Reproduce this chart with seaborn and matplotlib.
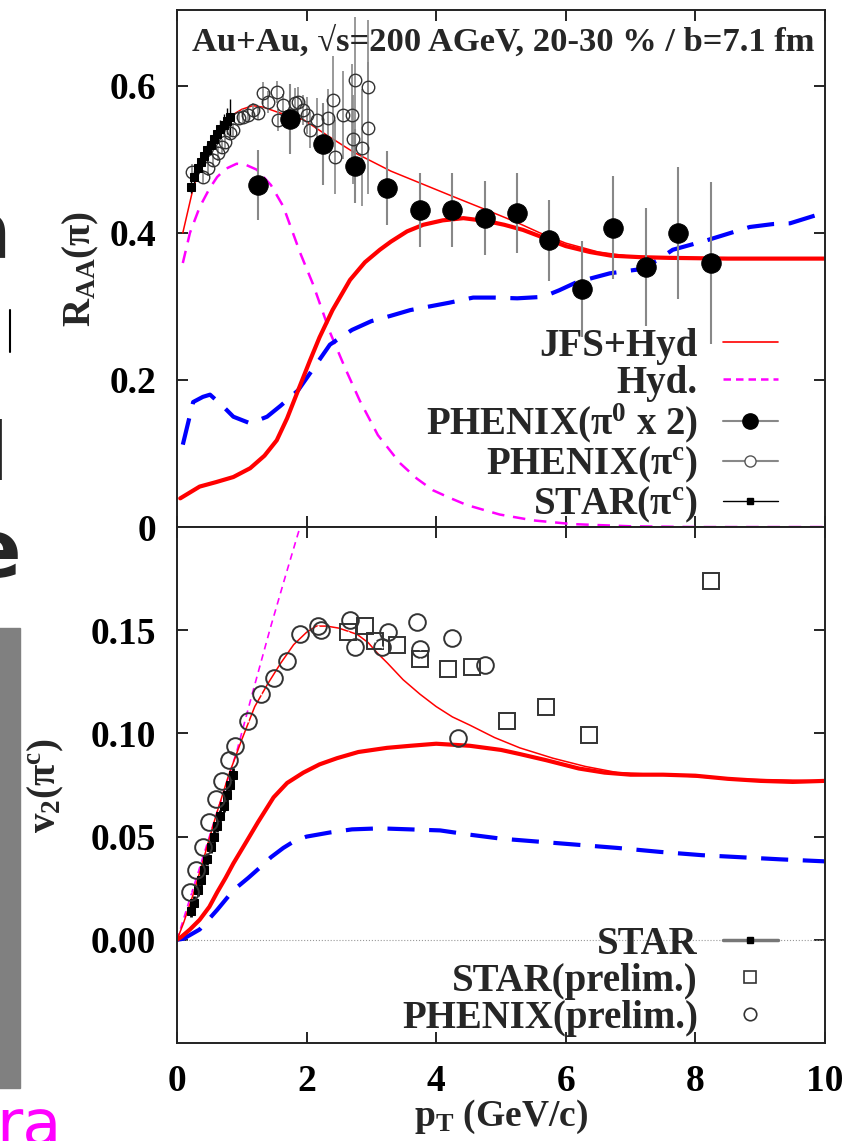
import numpy as np
import pandas as pd
import matplotlib
matplotlib.use('Agg')
from matplotlib import pyplot as plt
from matplotlib.lines import Line2D
from matplotlib.patches import Rectangle
import seaborn as sns

# ---------------- R_AA panel (top) ----------------
# JFS+Hyd (thin red)
raa_jfs_pt = [0.09, 0.25, 0.4, 0.55, 0.7, 0.85, 1.0, 1.17, 1.33, 1.59, 1.95, 2.31, 2.72, 3.3, 3.8,
              4.3, 4.78, 5.25, 5.6, 6.0, 6.5, 7.0, 8.0, 9.0, 10.0]
raa_jfs = [0.40, 0.461, 0.50, 0.525, 0.545, 0.56, 0.568, 0.573, 0.571, 0.563, 0.554, 0.533, 0.510, 0.484,
           0.466, 0.448, 0.431, 0.414, 0.400, 0.386, 0.374, 0.368, 0.365, 0.365, 0.365]
# second JFS+Hyd curve (thick red)
raa_thick_pt = [0.05, 0.35, 0.6, 0.87, 1.13, 1.35, 1.54, 1.7, 1.87, 2.05, 2.2, 2.4, 2.67, 2.9, 3.13, 3.3,
                3.55, 3.8, 4.1, 4.42, 4.78, 5.05, 5.34, 5.76, 6.0, 6.37, 6.7, 7.14, 7.6, 8.5, 10.0]
raa_thick = [0.039, 0.055, 0.061, 0.068, 0.080, 0.097, 0.118, 0.148, 0.186, 0.226, 0.258, 0.295, 0.336,
             0.360, 0.377, 0.388, 0.402, 0.411, 0.417, 0.420, 0.416, 0.411, 0.404, 0.390, 0.382, 0.374,
             0.369, 0.367, 0.366, 0.365, 0.365]
# Hyd. (magenta dashed)
raa_hyd_pt = [0.09, 0.2, 0.35, 0.5, 0.62, 0.75, 0.92, 1.05, 1.23, 1.45, 1.64, 1.9, 2.1, 2.36, 2.6, 2.82,
              3.1, 3.44, 3.7, 3.95, 4.2, 4.47, 4.98, 5.5, 6.1, 7.0, 8.0, 10.0]
raa_hyd = [0.359, 0.40, 0.435, 0.46, 0.476, 0.487, 0.494, 0.493, 0.486, 0.465, 0.436, 0.373, 0.33, 0.265,
           0.215, 0.172, 0.125, 0.087, 0.066, 0.050, 0.040, 0.030, 0.017, 0.009, 0.004, 0.001, 0.0, 0.0]
# blue dashed
raa_blue_pt = [0.09, 0.25, 0.4, 0.51, 0.7, 0.87, 1.13, 1.39, 1.6, 1.87, 2.1, 2.36, 2.7, 3.0, 3.29, 3.6,
               3.9, 4.2, 4.57, 4.9, 5.25, 5.65, 5.9, 6.17, 6.68, 7.1, 7.4, 7.65, 8.18, 8.84, 9.2, 9.46, 9.97]
raa_blue = [0.112, 0.170, 0.177, 0.180, 0.165, 0.150, 0.141, 0.150, 0.165, 0.186, 0.215, 0.248, 0.268,
            0.280, 0.287, 0.295, 0.300, 0.305, 0.312, 0.312, 0.311, 0.313, 0.322, 0.333, 0.345, 0.350,
            0.362, 0.377, 0.390, 0.408, 0.412, 0.413, 0.427]

# PHENIX pi0 x 2
phx_pi0_pt = [1.25, 1.74, 2.25, 2.75, 3.24, 3.75, 4.24, 4.75, 5.25, 5.74, 6.25, 6.73, 7.24, 7.73, 8.24]
phx_pi0 = [0.465, 0.555, 0.521, 0.491, 0.461, 0.431, 0.431, 0.420, 0.427, 0.390, 0.324, 0.407, 0.354,
           0.400, 0.359]
phx_pi0_err = [0.048, 0.048, 0.056, 0.05, 0.05, 0.05, 0.05, 0.05, 0.055, 0.055, 0.065, 0.07, 0.08, 0.09, 0.11]

# PHENIX charged pions
phx_pic_pt = [0.23, 0.40, 0.48, 0.56, 0.63, 0.69, 0.74, 0.82, 0.87, 0.95, 1.02, 1.10, 1.17, 1.25, 1.33,
              1.40, 1.54, 1.56, 1.64, 1.82, 1.87, 1.95, 2.0, 2.05, 2.16, 2.33, 2.41, 2.44, 2.56, 2.7,
              2.72, 2.75, 2.85, 2.95, 2.95]
phx_pic = [0.483, 0.476, 0.488, 0.499, 0.508, 0.517, 0.524, 0.536, 0.540, 0.556, 0.558, 0.560, 0.567,
           0.563, 0.590, 0.578, 0.592, 0.554, 0.574, 0.577, 0.578, 0.567, 0.560, 0.540, 0.554, 0.556,
           0.581, 0.503, 0.560, 0.560, 0.527, 0.608, 0.516, 0.599, 0.543]
phx_pic_err = [0.01, 0.01, 0.01, 0.01, 0.01, 0.01, 0.01, 0.01, 0.01, 0.01, 0.01, 0.01, 0.01, 0.01, 0.015,
               0.015, 0.015, 0.015, 0.015, 0.02, 0.02, 0.02, 0.025, 0.025, 0.03, 0.04, 0.06, 0.05, 0.06,
               0.07, 0.06, 0.085, 0.08, 0.09, 0.09]

# STAR charged pions
star_pic_pt = [0.22, 0.27, 0.32, 0.37, 0.42, 0.47, 0.52, 0.57, 0.62, 0.67, 0.72, 0.77, 0.82]
star_pic = [0.462, 0.476, 0.488, 0.497, 0.505, 0.513, 0.520, 0.527, 0.534, 0.541, 0.547, 0.552, 0.557]
star_pic_err = [0.008, 0.008, 0.008, 0.008, 0.008, 0.008, 0.01, 0.01, 0.01, 0.012, 0.014, 0.018, 0.025]

# ---------------- v2 panel (bottom) ----------------
v2_jfs_pt = [0.0, 0.1, 0.25, 0.4, 0.6, 0.8, 1.0, 1.2, 1.4, 1.6, 1.8, 2.0, 2.15, 2.31, 2.5, 2.78, 2.95,
             3.09, 3.25, 3.49, 3.75, 4.0, 4.25, 4.52, 4.9, 5.29, 5.8, 6.3, 6.8, 7.5, 8.5, 10.0]
v2_jfs = [0.0, 0.008, 0.022, 0.038, 0.060, 0.080, 0.097, 0.113, 0.124, 0.134, 0.143, 0.149, 0.152, 0.152,
          0.151, 0.148, 0.144, 0.139, 0.134, 0.126, 0.119, 0.113, 0.108, 0.104, 0.098, 0.093, 0.088,
          0.084, 0.081, 0.080, 0.078, 0.077]
v2_thick_pt = [0.0, 0.07, 0.2, 0.35, 0.5, 0.62, 0.75, 0.87, 1.08, 1.25, 1.49, 1.7, 1.95, 2.2, 2.47, 2.8,
               3.24, 3.6, 4.0, 4.52, 5.0, 5.29, 5.7, 6.2, 6.6, 7.0, 7.5, 8.0, 8.5, 9.0, 9.5, 10.0]
v2_thick = [0.0, 0.0015, 0.005, 0.0097, 0.016, 0.023, 0.030, 0.037, 0.048, 0.057, 0.069, 0.076, 0.081,
            0.085, 0.088, 0.091, 0.093, 0.094, 0.095, 0.094, 0.092, 0.090, 0.087, 0.083, 0.081, 0.080,
            0.080, 0.0795, 0.078, 0.077, 0.0765, 0.077]
v2_hyd_pt = [0.0, 0.3, 0.6, 0.92, 1.16, 1.44, 1.69, 1.87, 2.0]
v2_hyd = [0.0, 0.03, 0.06, 0.091, 0.119, 0.151, 0.178, 0.197, 0.21]
v2_blue_pt = [0.0, 0.1, 0.35, 0.62, 0.87, 1.1, 1.28, 1.45, 1.64, 1.82, 2.0, 2.36, 2.7, 3.13, 3.6, 4.06,
              4.5, 5.0, 5.6, 6.2, 6.8, 7.45, 8.1, 8.7, 9.3, 10.0]
v2_blue = [0.0, 0.0005, 0.005, 0.0145, 0.024, 0.030, 0.035, 0.040, 0.0445, 0.048, 0.050, 0.052, 0.0535,
           0.054, 0.0535, 0.053, 0.051, 0.049, 0.0475, 0.046, 0.0445, 0.0426, 0.041, 0.040, 0.039, 0.038]

star_v2_pt = [0.22, 0.27, 0.32, 0.37, 0.42, 0.47, 0.52, 0.57, 0.62, 0.67, 0.72, 0.77, 0.82, 0.87]
star_v2 = [0.014, 0.018, 0.024, 0.029, 0.034, 0.039, 0.045, 0.050, 0.055, 0.060, 0.065, 0.070, 0.075, 0.080]
star_pre_pt = [2.64, 2.90, 3.06, 3.39, 3.75, 4.18, 4.55, 5.09, 5.69, 6.36, 8.24]
star_pre = [0.149, 0.152, 0.145, 0.143, 0.136, 0.131, 0.132, 0.106, 0.113, 0.099, 0.174]
phx_pre_pt = [0.2, 0.3, 0.4, 0.5, 0.6, 0.7, 0.8, 0.9, 1.1, 1.3, 1.5, 1.7, 1.9, 2.18, 2.23, 2.67, 2.75,
              3.16, 3.26, 3.70, 3.75, 4.24, 4.34, 4.75]
phx_pre = [0.023, 0.034, 0.045, 0.057, 0.068, 0.077, 0.087, 0.094, 0.106, 0.119, 0.127, 0.135, 0.148,
           0.152, 0.150, 0.155, 0.142, 0.142, 0.149, 0.154, 0.141, 0.146, 0.098, 0.133]

raa_ticks = [0, 0.2, 0.4, 0.6]
raa_ticklabels = ['0', '0.2', '0.4', '0.6']
v2_ticks = [0.0, 0.05, 0.10, 0.15]
v2_ticklabels = ['0.00', '0.05', '0.10', '0.15']
pt_ticks = [0, 2, 4, 6, 8, 10]

sns.set_style('ticks')
plt.rcParams['font.family'] = ['Liberation Serif', 'DejaVu Serif']
plt.rcParams['font.weight'] = 'bold'
plt.rcParams['axes.labelweight'] = 'bold'
plt.rcParams['mathtext.fontset'] = 'custom'
plt.rcParams['mathtext.rm'] = 'Liberation Serif:bold'
plt.rcParams['mathtext.it'] = 'Liberation Serif:italic:bold'
plt.rcParams['mathtext.bf'] = 'Liberation Serif:bold'
plt.rcParams['mathtext.default'] = 'rm'


def curve(ax, x, y, **kw):
    sns.lineplot(x=x, y=y, ax=ax, estimator=None, sort=False, errorbar=None, **kw)


fig = plt.figure(figsize=(8.46, 11.41), dpi=100)
ax1 = fig.add_axes([0.2092, 0.5381, 0.766, 0.4531])
ax2 = fig.add_axes([0.2092, 0.0859, 0.766, 0.4522])

# ---- top panel ----
curve(ax1, raa_hyd_pt, raa_hyd, color='#ff00ff', lw=1.8, linestyle=(0, (5, 3.5)))
curve(ax1, raa_blue_pt, raa_blue, color='#0000ff', lw=3, linestyle=(0, (6.5, 3.5)))
curve(ax1, raa_thick_pt, raa_thick, color='red', lw=3)
curve(ax1, raa_jfs_pt, raa_jfs, color='red', lw=1.1)
ax1.errorbar(phx_pic_pt, phx_pic, yerr=phx_pic_err, fmt='none', ecolor='#888888', elinewidth=1.2, capsize=0)
ax1.errorbar(phx_pi0_pt, phx_pi0, yerr=phx_pi0_err, fmt='none', ecolor='#888888', elinewidth=1.5, capsize=0)
ax1.errorbar(star_pic_pt, star_pic, yerr=star_pic_err, fmt='none', ecolor='black', elinewidth=1.0, capsize=0)
curve(ax1, phx_pic_pt, phx_pic, linestyle='none', marker='o', ms=9, mfc='none', mec='#333333', mew=1.0)
curve(ax1, star_pic_pt, star_pic, linestyle='none', marker='s', ms=6, color='black', mec='black')
curve(ax1, phx_pi0_pt, phx_pi0, linestyle='none', marker='o', ms=14, color='black', mec='black')

ax1.set_ylim(0, 0.703)
ax1.set_yticks(raa_ticks)
ax1.set_yticklabels(raa_ticklabels)
ax1.set_ylabel('R$_{AA}$(π)', fontsize=28)
ax1.yaxis.set_label_coords(-0.118, 0.5)
ax1.text(0.023, 0.938, 'Au+Au, √s=200 AGeV, 20-30 % / b=7.1 fm', transform=ax1.transAxes,
         fontsize=24.8, ha='left', va='center')

h1 = [Line2D([], [], color='red', lw=1.2),
      Line2D([], [], color='#ff00ff', lw=1.8, linestyle=(0, (3, 2))),
      Line2D([], [], color='#888888', lw=1.5, marker='o', ms=11, mfc='black', mec='black'),
      Line2D([], [], color='#888888', lw=1.5, marker='o', ms=8, mfc='white', mec='#555555'),
      Line2D([], [], color='black', lw=1.0, marker='s', ms=5, mfc='black', mec='black')]
l1 = ['JFS+Hyd', 'Hyd.', 'PHENIX(π$^0$ x 2)', 'PHENIX(π$^c$)', 'STAR(π$^c$)']
ax1.legend(h1, l1, markerfirst=False, frameon=False, loc='lower right', bbox_to_anchor=(0.927, 0.003),
           borderpad=0, borderaxespad=0, handlelength=1.4, handletextpad=0.65, labelspacing=0.0,
           fontsize=28)

# ---- bottom panel ----
ax2.axhline(0, color='#999999', lw=0.8, linestyle=':')
curve(ax2, v2_hyd_pt, v2_hyd, color='#ff00ff', lw=1.2, linestyle=(0, (4, 3)))
curve(ax2, v2_blue_pt, v2_blue, color='#0000ff', lw=3, linestyle=(0, (6.5, 3.5)))
curve(ax2, v2_thick_pt, v2_thick, color='red', lw=3)
curve(ax2, v2_jfs_pt, v2_jfs, color='red', lw=1.1)
ax2.errorbar(star_v2_pt, star_v2, yerr=[0.003] * len(star_v2), fmt='none', ecolor='black', elinewidth=2,
             capsize=0)
curve(ax2, star_v2_pt, star_v2, linestyle='none', marker='s', ms=6, color='black', mec='black')
curve(ax2, star_pre_pt, star_pre, linestyle='none', marker='s', ms=11, mfc='none', mec='#333333', mew=1.4)
curve(ax2, phx_pre_pt, phx_pre, linestyle='none', marker='o', ms=12, mfc='none', mec='#333333', mew=1.4)
curve(ax2, star_pre_pt, star_pre, linestyle='none', marker='.', ms=1.5, color='#777777')
curve(ax2, phx_pre_pt, phx_pre, linestyle='none', marker='.', ms=1.5, color='#777777')

ax2.set_ylim(-0.05, 0.2)
ax2.set_yticks(v2_ticks)
ax2.set_yticklabels(v2_ticklabels)
ax2.set_ylabel('v$_2$(π$^c$)', fontsize=28)
ax2.yaxis.set_label_coords(-0.172, 0.5)
ax2.set_xlabel('p$_T$ (GeV/c)', fontsize=27)
ax2.xaxis.set_label_coords(0.5, -0.106)

h2 = [Line2D([], [], color='#777777', lw=2.5, marker='s', ms=5, mfc='black', mec='black'),
      Line2D([], [], linestyle='none', marker='s', ms=9, mfc='white', mec='#333333', mew=1.2),
      Line2D([], [], linestyle='none', marker='o', ms=9, mfc='white', mec='#333333', mew=1.2)]
l2 = ['STAR', 'STAR(prelim.)', 'PHENIX(prelim.)']
ax2.legend(h2, l2, markerfirst=False, frameon=False, loc='lower right', bbox_to_anchor=(0.927, 0.012),
           borderpad=0, borderaxespad=0, handlelength=1.4, handletextpad=0.65, labelspacing=0.0,
           fontsize=28)

for ax in (ax1, ax2):
    ax.set_xlim(0, 10)
    ax.set_xticks(pt_ticks)
    ax.tick_params(direction='in', length=8, width=1.2, top=True, right=True, labelsize=27, pad=15,
                   colors='black')
    for s in ax.spines.values():
        s.set_linewidth(1.4)
        s.set_color('#222222')
ax1.tick_params(labelbottom=False)

# slide fragments around the figure
fig.text(-0.052, 0.774, 'a', fontsize=58, family='DejaVu Sans', weight='bold', va='baseline')
fig.text(-0.059, 0.579, 'd', fontsize=58, family='DejaVu Sans', weight='bold', va='baseline')
fig.text(-0.040, 0.494, 'e', fontsize=58, family='DejaVu Sans', weight='bold', va='baseline')
fig.add_artist(Line2D([10 / 846, 10 / 846], [1 - 310 / 1141, 1 - 352 / 1141], color='black', lw=1.5))
fig.add_artist(Rectangle((-0.02, 0.0464), 0.0436, 0.403, transform=fig.transFigure, color='#808080'))
fig.text(-0.004, -0.0035, 'ra', fontsize=46, family='DejaVu Sans', color='#ff00ff', va='baseline',
         weight='normal')

fig.savefig('out.png', dpi=100)
